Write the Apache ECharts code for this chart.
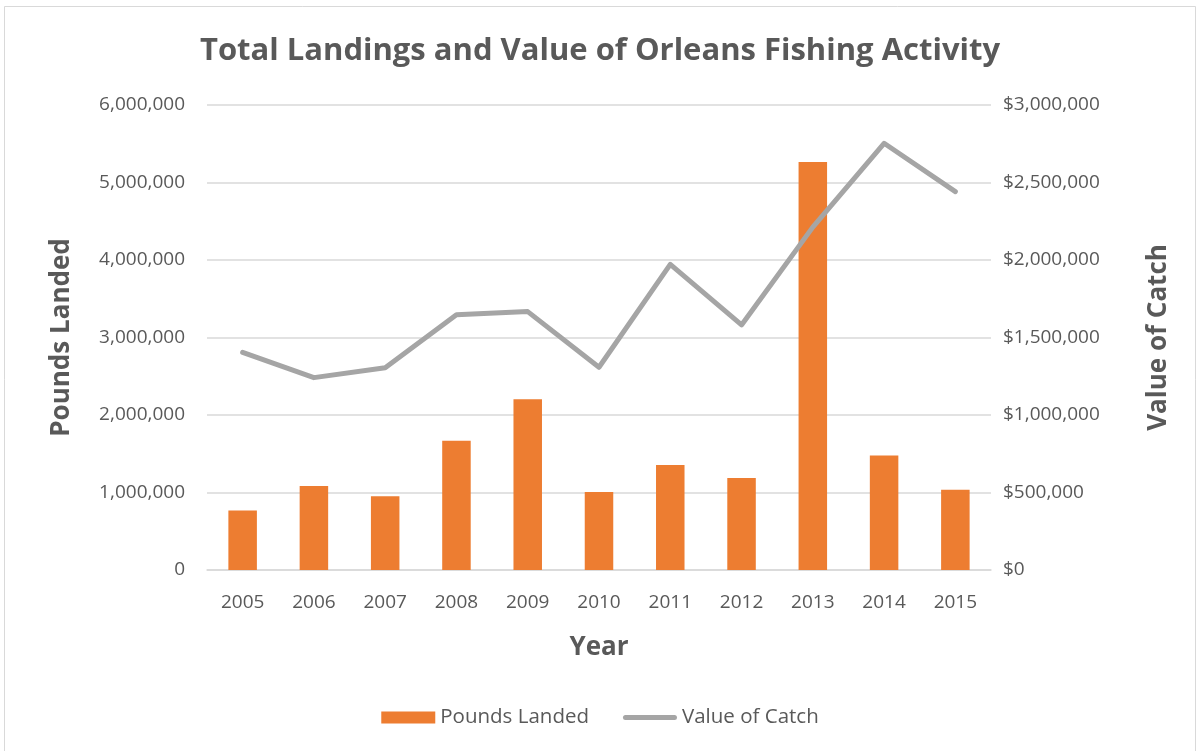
<!DOCTYPE html>
<html><head><meta charset="utf-8">
<script src="https://cdn.jsdelivr.net/npm/echarts@6/dist/echarts.min.js"></script>
<style>html,body{margin:0;padding:0;background:#fff}#c{width:1200px;height:751px}</style>
</head><body><div id="c"></div>
<script>
const years = ['2005','2006','2007','2008','2009','2010','2011','2012','2013','2014','2015'];
const poundsLanded = [767000, 1083000, 953000, 1668000, 2203000, 1005000, 1354000, 1186000, 5265000, 1479000, 1035000];
const valueOfCatch = [1404000, 1241000, 1305000, 1647000, 1667000, 1308000, 1972000, 1581000, 2212000, 2753000, 2441000];
const leftTicks = [0, 1000000, 2000000, 3000000, 4000000, 5000000, 6000000];
const rightTicks = [0, 500000, 1000000, 1500000, 2000000, 2500000, 3000000];

const font = 'Open Sans';
const txt = '#595959';
const chart = echarts.init(document.getElementById('c'));
const fmt = v => v.toLocaleString('en-US');
chart.setOption({
  animation: false,
  backgroundColor: '#fff',
  graphic: [{type:'rect', shape:{x:4.5,y:6.5,width:1191,height:760}, style:{fill:'none', stroke:'#D9D9D9', lineWidth:1}}],
  title: {text:'Total Landings and Value of Orleans Fishing Activity', left:'center', top:31,
    textStyle:{fontFamily:font, fontSize:31, fontWeight:'bold', color:txt}},
  legend: {bottom:18, left:'center', itemGap:34, itemWidth:54, itemHeight:12,
    textStyle:{fontFamily:font, fontSize:20.5, color:txt},
    data:[{name:'Pounds Landed', icon:'rect'},
          {name:'Value of Catch', icon:'path://M2.5,0 L51.5,0 A2.5,2.5 0 0 1 51.5,5 L2.5,5 A2.5,2.5 0 0 1 2.5,0 Z'}]},
  grid: {left:207, right:209, top:105, bottom:181, containLabel:false},
  xAxis: {type:'category', data:years, name:'Year', nameLocation:'middle', nameGap:65,
    nameTextStyle:{fontFamily:font, fontSize:26, fontWeight:'bold', color:txt},
    axisLine:{show:true, lineStyle:{color:'#D9D9D9', width:1.5}}, axisTick:{show:false},
    axisLabel:{fontFamily:font, fontSize:19, color:txt, margin:23}},
  yAxis: [
    {type:'value', min:0, max:6000000, interval:1000000, name:'Pounds Landed', nameLocation:'middle', nameGap:132,
      nameTextStyle:{fontFamily:font, fontSize:26, fontWeight:'bold', color:txt},
      axisLine:{show:false}, axisTick:{show:false},
      splitLine:{lineStyle:{color:'#D9D9D9', width:1.5}},
      axisLabel:{fontFamily:font, fontSize:19, color:txt, margin:22, formatter:v=>fmt(v)}},
    {type:'value', min:0, max:3000000, interval:500000, name:'Value of Catch', nameLocation:'middle', nameGap:155,
      nameRotate:90,
      nameTextStyle:{fontFamily:font, fontSize:26, fontWeight:'bold', color:txt},
      axisLine:{show:false}, axisTick:{show:false}, splitLine:{show:false},
      axisLabel:{fontFamily:font, fontSize:19, color:txt, margin:12, formatter:v=>'$'+fmt(v)}}
  ],
  series: [
    {name:'Pounds Landed', type:'bar', data:poundsLanded, barWidth:'40%', itemStyle:{color:'#ED7D31'}},
    {name:'Value of Catch', type:'line', yAxisIndex:1, data:valueOfCatch, symbol:'none',
      lineStyle:{color:'#A5A5A5', width:5, cap:'round', join:'round'}, itemStyle:{color:'#A5A5A5'}}
  ]
});
</script></body></html>
